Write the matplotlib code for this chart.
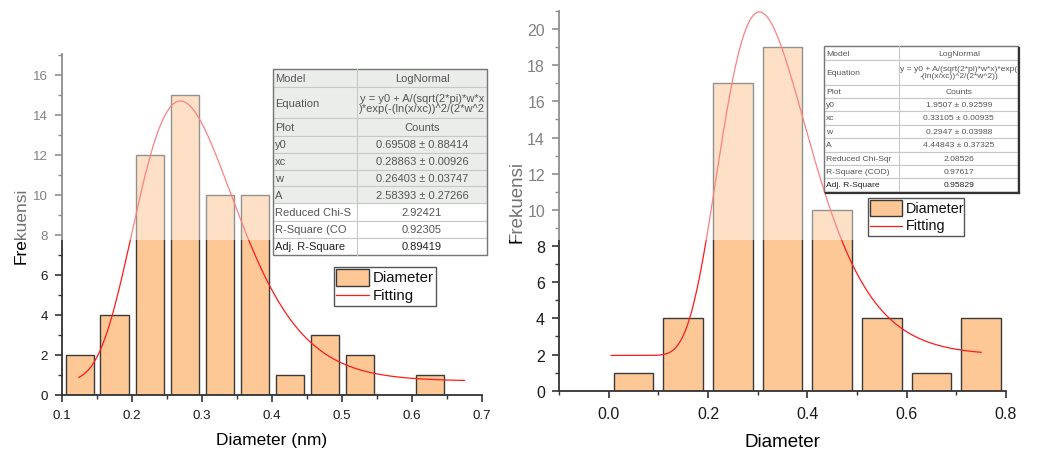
import numpy as np
import matplotlib
matplotlib.use("Agg")
import matplotlib.pyplot as plt
from matplotlib.patches import Rectangle
from matplotlib.ticker import MultipleLocator

plt.rcParams['font.family'] = ['Liberation Sans', 'DejaVu Sans']

# ---- data ----
left_centers = [0.125, 0.175, 0.225, 0.275, 0.325, 0.375, 0.425, 0.475, 0.525, 0.575, 0.625]
left_counts = [2, 4, 12, 15, 10, 10, 1, 3, 2, 0, 1]
left_fit = dict(y0=0.69508, xc=0.28863, w=0.26403, A=2.58393)
left_fit_range = (0.124, 0.675)

right_centers = [0.05, 0.15, 0.25, 0.35, 0.45, 0.55, 0.65, 0.75]
right_counts = [1, 4, 17, 19, 10, 4, 1, 4]
right_fit = dict(y0=1.9507, xc=0.33105, w=0.2947, A=4.44843)
right_fit_range = (0.005, 0.75)

table_labels_left = ["Model", "Equation", "Plot", "y0", "xc", "w", "A",
                     "Reduced Chi-S", "R-Square (CO", "Adj. R-Square"]
table_values_left = ["LogNormal",
                     "y = y0 + A/(sqrt(2*pi)*w*x\n)*exp(-(ln(x/xc))^2/(2*w^2",
                     "Counts", "0.69508 \u00b1 0.88414", "0.28863 \u00b1 0.00926",
                     "0.26403 \u00b1 0.03747", "2.58393 \u00b1 0.27266",
                     "2.92421", "0.92305", "0.89419"]
table_labels_right = ["Model", "Equation", "Plot", "y0", "xc", "w", "A",
                      "Reduced Chi-Sqr", "R-Square (COD)", "Adj. R-Square"]
table_values_right = ["LogNormal",
                      "y = y0 + A/(sqrt(2*pi)*w*x)*exp(\n-(ln(x/xc))^2/(2*w^2))",
                      "Counts", "1.9507 \u00b1 0.92599", "0.33105 \u00b1 0.00935",
                      "0.2947 \u00b1 0.03988", "4.44843 \u00b1 0.37325",
                      "2.08526", "0.97617", "0.95829"]

BAR = '#fdc896'
EDGE = '#3a3a3a'


def lognormal(x, y0, xc, w, A):
    return y0 + A / (np.sqrt(2 * np.pi) * w * x) * np.exp(-(np.log(x / xc)) ** 2 / (2 * w ** 2))


fig = plt.figure(figsize=(10.5, 4.52), dpi=100)


def style_axes(ax, fs):
    for s in ['top', 'right']:
        ax.spines[s].set_visible(False)
    for s in ['left', 'bottom']:
        ax.spines[s].set_color('#333333')
        ax.spines[s].set_linewidth(1.3)
    ax.tick_params(which='major', direction='out', length=5, width=1.2,
                   color='#333333', labelsize=fs, labelcolor='#1a1a1a')
    ax.tick_params(which='minor', direction='out', length=3, width=1.0, color='#333333')


# left chart
ax1 = fig.add_axes([62 / 1050, 1 - 396 / 452, 420 / 1050, 341 / 452])
ax1.bar(left_centers, left_counts, width=0.04, color=BAR, edgecolor=EDGE, linewidth=1.0)
x = np.linspace(*left_fit_range, 300)
ax1.plot(x, lognormal(x, **left_fit), color='#ff1a1a', lw=0.9)
ax1.set_xlim(0.1, 0.7)
ax1.set_ylim(0, 17.05)
ax1.xaxis.set_minor_locator(MultipleLocator(0.05))
ax1.yaxis.set_major_locator(MultipleLocator(2))
ax1.yaxis.set_minor_locator(MultipleLocator(1))
ax1.set_xticks(np.arange(0.1, 0.71, 0.1))
ax1.set_xticklabels(['0.1', '0.2', '0.3', '0.4', '0.5', '0.6', '0.7'])
style_axes(ax1, 9.6)
ax1.tick_params(axis='x', pad=5)
ax1.tick_params(axis='y', pad=5)
ax1.set_xlabel('Diameter (nm)', fontsize=12.5, labelpad=8)
ax1.set_ylabel('Frekuensi', fontsize=12.5, labelpad=3)

# right chart
ax2 = fig.add_axes([559 / 1050, 1 - 391.7 / 452, 447 / 1050, 379.7 / 452])
ax2.bar(right_centers, right_counts, width=0.08, color=BAR, edgecolor=EDGE, linewidth=1.0)
x = np.linspace(*right_fit_range, 400)
ax2.plot(x, lognormal(x, **right_fit), color='#ff1a1a', lw=0.9)
ax2.set_xlim(-0.1, 0.8)
ax2.set_ylim(0, 21)
ax2.set_xticks(np.arange(0, 0.81, 0.2))
ax2.set_xticklabels(['0.0', '0.2', '0.4', '0.6', '0.8'])
ax2.xaxis.set_minor_locator(MultipleLocator(0.1))
ax2.yaxis.set_major_locator(MultipleLocator(2))
ax2.yaxis.set_minor_locator(MultipleLocator(1))
style_axes(ax2, 11.5)
ax2.tick_params(axis='x', pad=6)
ax2.tick_params(axis='y', pad=5)
ax2.set_xlabel('Diameter', fontsize=13.5, labelpad=9)
ax2.set_ylabel('Frekuensi', fontsize=13.5, labelpad=1)

# pale watermark band over the upper part of the picture
fig.patches.append(Rectangle((0, 1 - 241 / 452), 1, 241 / 452, transform=fig.transFigure,
                             facecolor='white', alpha=0.45, edgecolor='none', zorder=1))

# overlay in pixel coordinates for tables and legends
ov = fig.add_axes([0, 0, 1, 1], zorder=2)
ov.set_xlim(0, 1050)
ov.set_ylim(452, 0)
ov.axis('off')
ov.patch.set_alpha(0)


def draw_table(x0, x1, xdiv, rows, labels, values, fs, tint_rows, shadow):
    for i in range(len(labels)):
        top, bot = rows[i], rows[i + 1]
        fc = '#ebedeb' if i < tint_rows else 'white'
        ov.add_patch(Rectangle((x0, top), x1 - x0, bot - top, facecolor=fc,
                               edgecolor='#c8c8c8', lw=0.8))
        ym = (top + bot) / 2
        col = '#222222' if i == len(labels) - 1 else '#555555'
        ov.text(x0 + 2, ym, labels[i], fontsize=fs, color=col, va='center', ha='left')
        t = ov.text((xdiv + x1) / 2, ym, values[i], fontsize=fs, color=col,
                    va='center', ha='center', linespacing=1.0)
        t.set_clip_path(Rectangle((xdiv, top), x1 - xdiv, bot - top, transform=ov.transData))
    ov.plot([xdiv, xdiv], [rows[0], rows[-1]], color='#c8c8c8', lw=0.8)
    ov.add_patch(Rectangle((x0, rows[0]), x1 - x0, rows[-1] - rows[0], facecolor='none',
                           edgecolor='#777777', lw=1.0))
    if shadow:
        ov.plot([x1 + 1, x1 + 1], [rows[0] + 2, rows[-1] + 1], color='#333333', lw=1.6)
        ov.plot([x0 + 2, x1 + 1], [rows[-1] + 1, rows[-1] + 1], color='#333333', lw=1.6)


draw_table(273, 487, 357,
           [70, 88.3, 119.3, 136.7, 153.7, 170.7, 187.3, 204.3, 221.7, 239, 256],
           table_labels_left, table_values_left, 8.0, 7, False)
draw_table(824.3, 1018.3, 899.3,
           [47.3, 60.7, 86, 99, 112.3, 125.7, 139.3, 152.7, 166, 179.3, 192.7],
           table_labels_right, table_values_right, 6.1, 0, True)


def draw_legend(bx0, by0, bx1, by1, px0, px1, py0, py1, ly, tx, fs):
    ov.add_patch(Rectangle((bx0, by0), bx1 - bx0, by1 - by0, facecolor='white',
                           edgecolor='#555555', lw=1.0))
    ov.add_patch(Rectangle((px0, py0), px1 - px0, py1 - py0, facecolor=BAR,
                           edgecolor=EDGE, lw=1.0))
    ov.plot([px0, px1], [ly, ly], color='#ff1a1a', lw=0.9)
    ov.text(tx, (py0 + py1) / 2, 'Diameter', fontsize=fs, va='center', ha='left', color='#111111')
    ov.text(tx, ly, 'Fitting', fontsize=fs, va='center', ha='left', color='#111111')


draw_legend(334, 267.7, 435.7, 306.7, 336, 369, 269.5, 287, 296, 373, 10.8)
draw_legend(868, 198.7, 964, 236.7, 870, 901.7, 200.5, 216.7, 226.5, 906, 10.4)

fig.savefig('out.png', dpi=100)
